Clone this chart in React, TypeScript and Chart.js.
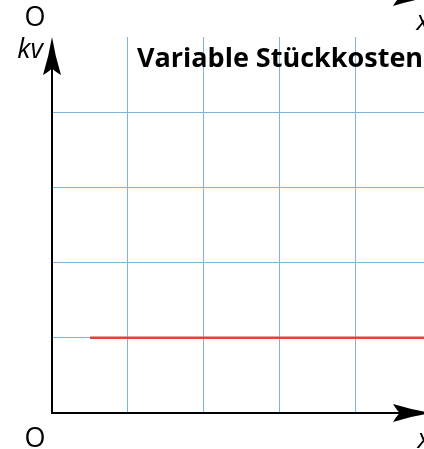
import React, { useEffect, useRef } from "react";
import { Chart, registerables } from "chart.js";

Chart.register(...registerables);

const kvX = [0.5, 5];
const kvY = [1, 1];
const xTicks = [0, 1, 2, 3, 4, 5];
const yTicks = [0, 1, 2, 3, 4, 5];
const titleText = "Variable Stückkosten";
const yLabel = "kv";
const xLabel = "x";
const originLabel = "O";

const FONT = "'Open Sans', 'Noto Sans', sans-serif";

function arrowHead(ctx: CanvasRenderingContext2D, tx: number, ty: number, dx: number, dy: number) {
  const L = 38;
  const W = 9;
  const nx = -dy;
  const ny = dx;
  const bx = tx - dx * L;
  const by = ty - dy * L;
  const notchX = tx - dx * L * 0.8;
  const notchY = ty - dy * L * 0.8;
  const c1x = tx - dx * L * 0.5 + nx * W * 0.35;
  const c1y = ty - dy * L * 0.5 + ny * W * 0.35;
  const c2x = tx - dx * L * 0.5 - nx * W * 0.35;
  const c2y = ty - dy * L * 0.5 - ny * W * 0.35;
  ctx.beginPath();
  ctx.moveTo(tx, ty);
  ctx.quadraticCurveTo(c1x, c1y, bx + nx * W, by + ny * W);
  ctx.quadraticCurveTo(notchX - dx * 2, notchY - dy * 2, notchX, notchY);
  ctx.quadraticCurveTo(notchX - dx * 2, notchY - dy * 2, bx - nx * W, by - ny * W);
  ctx.quadraticCurveTo(c2x, c2y, tx, ty);
  ctx.closePath();
  ctx.fillStyle = "#000";
  ctx.fill();
}

const decorPlugin = {
  id: "decor",
  afterDatasetsDraw(chart: any) {
    const ctx: CanvasRenderingContext2D = chart.ctx;
    const xs = chart.scales.x;
    const ys = chart.scales.y;
    const x0 = xs.getPixelForValue(0);
    const x1 = xs.getPixelForValue(5);
    const y0 = ys.getPixelForValue(0);
    const y1 = ys.getPixelForValue(5);
    ctx.save();
    ctx.strokeStyle = "#000";
    ctx.lineWidth = 2;
    ctx.beginPath();
    ctx.moveTo(x0, y0);
    ctx.lineTo(x0, y1 + 20);
    ctx.moveTo(x0 - 1, y0);
    ctx.lineTo(x1 - 20, y0);
    ctx.stroke();
    arrowHead(ctx, x0, y1, 0, -1);
    arrowHead(ctx, x1, y0, 1, 0);
    // neighbouring chart's x-axis arrow above (cut off)
    arrowHead(ctx, x1, -3, 1, 0);

    ctx.fillStyle = "#000";
    ctx.textAlign = "center";
    ctx.textBaseline = "middle";
    ctx.font = `27px ${FONT}`;
    ctx.fillText(originLabel, 35, 439);
    ctx.fillText(originLabel, 35, 18);
    ctx.font = `italic 27px ${FONT}`;
    ctx.fillText(yLabel, 30, 50);
    ctx.fillText(xLabel, 424, 440);
    ctx.fillText(xLabel, 423, 22);
    ctx.font = `bold 27px ${FONT}`;
    ctx.fillText(titleText, 280, 59);
    ctx.restore();
  },
};

export default function App() {
  const ref = useRef<HTMLCanvasElement>(null);
  useEffect(() => {
    if (!ref.current) return;
    const gridColor = (c: any) =>
      c.tick && (c.tick.value === 0 || c.tick.value === 5) ? "rgba(0,0,0,0)" : "#7fb4da";
    const chart = new Chart(ref.current, {
      type: "line",
      data: {
        datasets: [
          {
            data: kvX.map((x, i) => ({ x, y: kvY[i] })),
            borderColor: "#e5413a",
            borderWidth: 2.5,
            pointRadius: 0,
            fill: false,
          },
        ],
      },
      options: {
        responsive: false,
        animation: false,
        devicePixelRatio: 1,
        layout: { padding: { left: 52, top: 37, right: 49, bottom: 36 } },
        plugins: { legend: { display: false }, tooltip: { enabled: false }, title: { display: false } },
        scales: {
          x: {
            type: "linear",
            min: xTicks[0],
            max: xTicks[xTicks.length - 1],
            afterBuildTicks: (s: any) => {
              s.ticks = xTicks.map((v) => ({ value: v }));
            },
            ticks: { display: false },
            border: { display: false },
            grid: { color: gridColor, lineWidth: 1, drawTicks: false },
          },
          y: {
            type: "linear",
            min: yTicks[0],
            max: yTicks[yTicks.length - 1],
            afterBuildTicks: (s: any) => {
              s.ticks = yTicks.map((v) => ({ value: v }));
            },
            ticks: { display: false },
            border: { display: false },
            grid: { color: gridColor, lineWidth: 1, drawTicks: false },
          },
        },
      },
      plugins: [decorPlugin],
    });
    return () => chart.destroy();
  }, []);
  return (
    <div style={{ position: "fixed", left: 0, top: 0, width: 424, height: 449, overflow: "hidden", background: "#fff" }}>
      <canvas ref={ref} width={480} height={449} style={{ width: 480, height: 449, display: "block" }} />
    </div>
  );
}
